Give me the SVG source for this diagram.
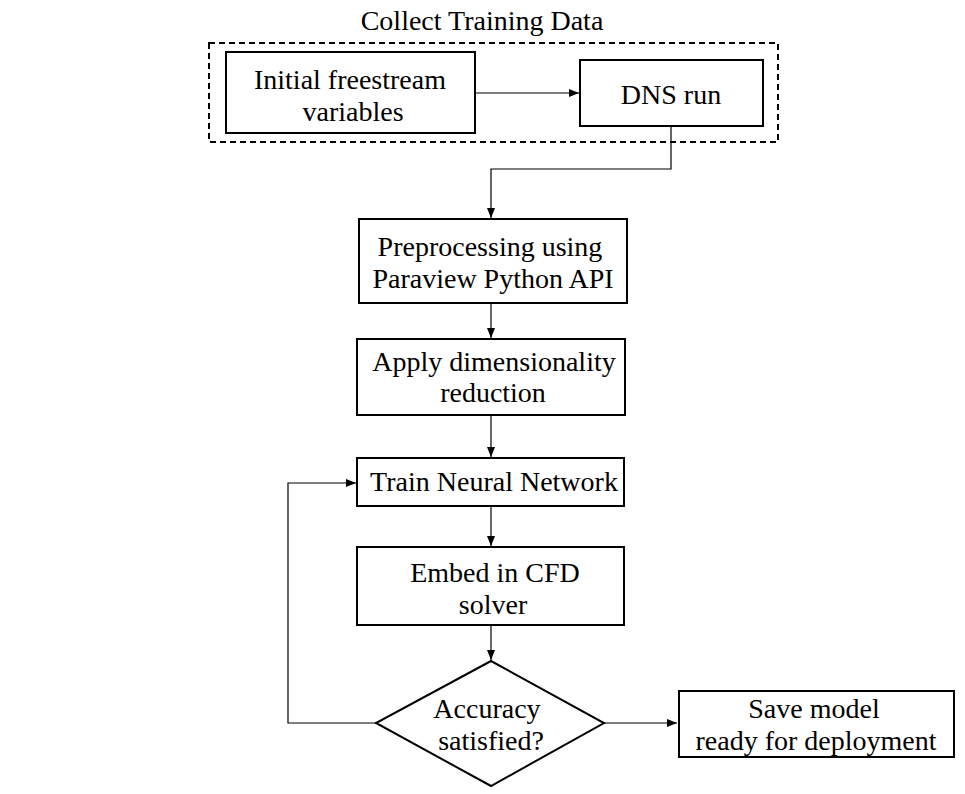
<svg xmlns="http://www.w3.org/2000/svg" width="965" height="794" viewBox="0 0 965 794">
<style>
.box{fill:#fff;stroke:#000;stroke-width:2}
.t{font-family:"Liberation Serif","Times New Roman",serif;font-size:28px;fill:#000;text-anchor:middle}
.c{fill:none;stroke:#000;stroke-width:1.2}
</style>
<defs>
<marker id="ah" viewBox="0 0 10 10" refX="10" refY="5" markerWidth="10" markerHeight="10" markerUnits="userSpaceOnUse" orient="auto">
<path d="M0,1 L10,5 L0,9 Z" fill="#000"/>
</marker>
</defs>
<rect width="965" height="794" fill="#fff"/>
<g id="cluster">
<rect x="209" y="43" width="569" height="99" fill="none" stroke="#000" stroke-width="2" stroke-dasharray="6,4"/>
<text class="t" x="482" y="30">Collect Training Data</text>
</g>
<g id="connectors">
<line class="c" x1="475" y1="93" x2="579" y2="93" marker-end="url(#ah)"/>
<polyline class="c" points="671,126 671,169 491,169 491,218" marker-end="url(#ah)"/>
<line class="c" x1="491" y1="303" x2="491" y2="338" marker-end="url(#ah)"/>
<line class="c" x1="491" y1="415" x2="491" y2="457" marker-end="url(#ah)"/>
<line class="c" x1="491" y1="506" x2="491" y2="546" marker-end="url(#ah)"/>
<line class="c" x1="491" y1="625" x2="491" y2="660" marker-end="url(#ah)"/>
<polyline class="c" points="376,723 288,723 288,483 356,483" marker-end="url(#ah)"/>
<line class="c" x1="604" y1="723" x2="677" y2="723" marker-end="url(#ah)"/>
</g>
<g id="n1">
<rect class="box" x="226" y="52" width="249" height="81"/>
<text class="t" x="350" y="89">Initial freestream</text>
<text class="t" x="353" y="121">variables</text>
</g>
<g id="n2">
<rect class="box" x="580" y="60" width="183" height="66"/>
<text class="t" x="671" y="104">DNS run</text>
</g>
<g id="n3">
<rect class="box" x="359" y="219" width="268" height="84"/>
<text class="t" x="490" y="256">Preprocessing using</text>
<text class="t" x="493" y="288">Paraview Python API</text>
</g>
<g id="n4">
<rect class="box" x="357" y="339" width="268" height="76"/>
<text class="t" x="494" y="371">Apply dimensionality</text>
<text class="t" x="493" y="402">reduction</text>
</g>
<g id="n5">
<rect class="box" x="357" y="458" width="267" height="48"/>
<text class="t" x="494" y="491">Train Neural Network</text>
</g>
<g id="n6">
<rect class="box" x="357" y="547" width="267" height="78"/>
<text class="t" x="495" y="582">Embed in CFD</text>
<text class="t" x="493" y="614">solver</text>
</g>
<g id="n7">
<polygon class="box" points="491,661 604,723 491,786 376,723"/>
<text class="t" x="487" y="718">Accuracy</text>
<text class="t" x="491" y="750">satisfied?</text>
</g>
<g id="n8">
<rect class="box" x="679" y="691" width="275" height="66"/>
<text class="t" x="814" y="718">Save model</text>
<text class="t" x="816" y="750">ready for deployment</text>
</g>
</svg>
